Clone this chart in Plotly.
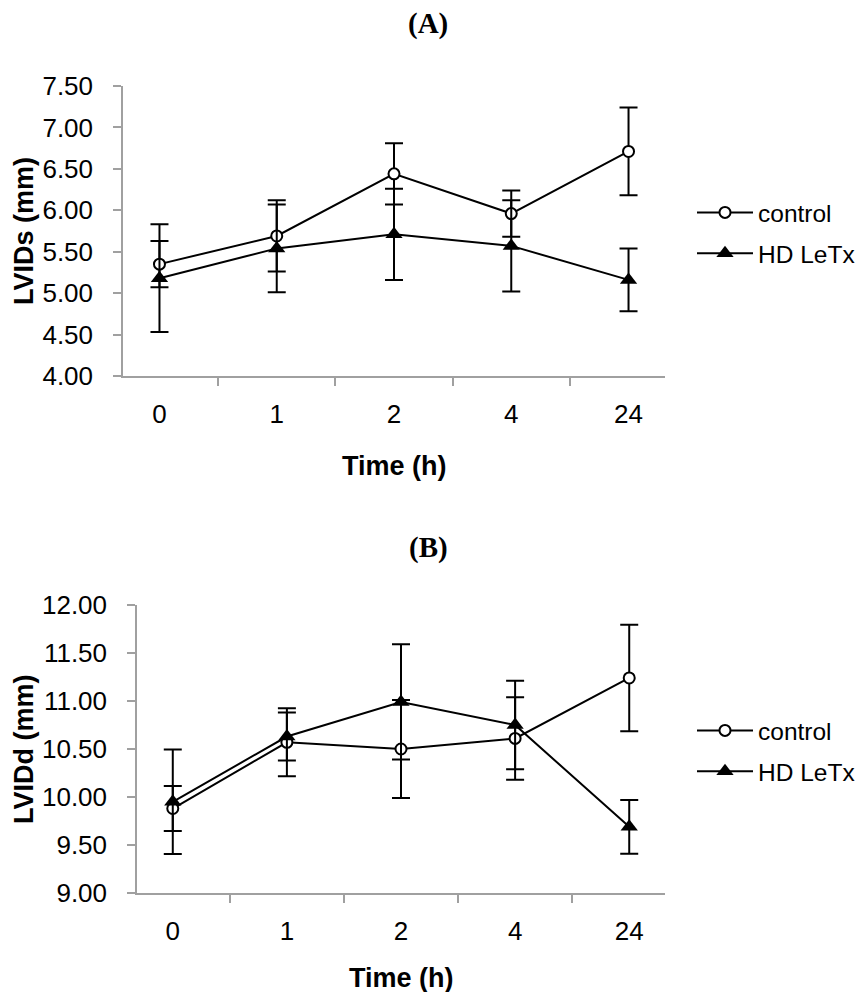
import plotly.graph_objects as go

# --- data ---
times = ["0", "1", "2", "4", "24"]

lvids_control = [5.35, 5.69, 6.44, 5.96, 6.71]
lvids_control_err = [0.28, 0.43, 0.37, 0.28, 0.53]
lvids_hd = [5.18, 5.54, 5.71, 5.57, 5.16]
lvids_hd_err = [0.65, 0.53, 0.55, 0.55, 0.38]

lvidd_control = [9.88, 10.57, 10.50, 10.61, 11.24]
lvidd_control_err = [0.235, 0.355, 0.51, 0.43, 0.555]
lvidd_hd = [9.95, 10.63, 10.99, 10.75, 9.69]
lvidd_hd_err = [0.545, 0.25, 0.60, 0.46, 0.28]

SANS = "Liberation Sans, Arial, sans-serif"
SERIF = "Liberation Serif, Times New Roman, serif"
AXIS_GREY = "#a0a0a0"

# page body has an 8px margin, so the figure is a bit smaller than the window
PAD = 8
W, H = 866 - 2 * PAD, 1000 - 2 * PAD


def px_x(v):
    # screen pixel -> paper fraction
    return (v - PAD) / W


def px_y(v):
    return 1 - (v - PAD) / H


fig = go.Figure()


def add_pair(ctrl, ctrl_err, hd, hd_err, xa, ya, legend):
    fig.add_trace(go.Scatter(
        x=times, y=ctrl, xaxis=xa, yaxis=ya, name="control", legend=legend,
        mode="lines+markers",
        line=dict(color="black", width=2),
        marker=dict(symbol="circle", size=11, color="white", line=dict(color="black", width=2)),
        error_y=dict(type="data", array=ctrl_err, visible=True, color="black", thickness=2, width=9),
        legendgroup=legend + "c",
    ))
    fig.add_trace(go.Scatter(
        x=times, y=hd, xaxis=xa, yaxis=ya, name="HD LeTx", legend=legend,
        mode="lines+markers",
        line=dict(color="black", width=2),
        marker=dict(symbol="triangle-up", size=15, color="black", line=dict(color="black", width=0)),
        error_y=dict(type="data", array=hd_err, visible=True, color="black", thickness=2, width=9),
        legendgroup=legend + "h",
    ))


add_pair(lvids_control, lvids_control_err, lvids_hd, lvids_hd_err, "x", "y", "legend")
add_pair(lvidd_control, lvidd_control_err, lvidd_hd, lvidd_hd_err, "x2", "y2", "legend2")

xaxis_common = dict(
    type="category", showline=True, linecolor=AXIS_GREY, linewidth=1.5,
    ticks="outside", tickson="boundaries", ticklen=8, tickcolor=AXIS_GREY, tickwidth=1.5,
    showgrid=False, zeroline=False, automargin=False,
    tickfont=dict(family=SANS, size=26, color="black"),
    ticklabelstandoff=14,
)
yaxis_common = dict(
    showline=True, linecolor=AXIS_GREY, linewidth=1.5,
    ticks="outside", ticklen=8, tickcolor=AXIS_GREY, tickwidth=1.5,
    showgrid=False, zeroline=False, dtick=0.5, tickformat=".2f", automargin=False,
    tickfont=dict(family=SANS, size=26, color="black"),
    ticklabelstandoff=15,
)

legend_common = dict(
    font=dict(family=SANS, size=24.5, color="black"),
    bgcolor="rgba(0,0,0,0)", itemwidth=56, traceorder="grouped", tracegroupgap=6,
    xanchor="left", yanchor="top",
)

fig.update_layout(
    width=W, height=H,
    margin=dict(l=0, r=0, t=0, b=0, autoexpand=False),
    paper_bgcolor="white", plot_bgcolor="white",
    xaxis=dict(xaxis_common, domain=[px_x(123), px_x(665)], anchor="y"),
    yaxis=dict(yaxis_common, domain=[px_y(376), px_y(86)], range=[4, 7.5], anchor="x"),
    xaxis2=dict(xaxis_common, domain=[px_x(137), px_x(665)], anchor="y2"),
    yaxis2=dict(yaxis_common, domain=[px_y(893), px_y(605)], range=[9, 12], anchor="x2"),
    legend=dict(legend_common, x=px_x(692), y=px_y(190)),
    legend2=dict(legend_common, x=px_x(692), y=px_y(708)),
    showlegend=True,
)

annotations = [
    dict(text="<b>(A)</b>", x=px_x(428), y=px_y(24), font=dict(family=SERIF, size=29)),
    dict(text="<b>(B)</b>", x=px_x(428), y=px_y(547), font=dict(family=SERIF, size=29)),
    dict(text="<b>Time (h)</b>", x=px_x(394), y=px_y(466), font=dict(family=SANS, size=27)),
    dict(text="<b>Time (h)</b>", x=px_x(401), y=px_y(978), font=dict(family=SANS, size=27)),
    dict(text="<b>LVIDs (mm)</b>", x=px_x(24), y=px_y(231), textangle=-90, font=dict(family=SANS, size=27)),
    dict(text="<b>LVIDd (mm)</b>", x=px_x(24), y=px_y(749), textangle=-90, font=dict(family=SANS, size=27)),
]
for a in annotations:
    a.update(xref="paper", yref="paper", showarrow=False, xanchor="center", yanchor="middle")
    a["font"]["color"] = "black"
fig.update_layout(annotations=annotations)

fig.write_html("out.html")
